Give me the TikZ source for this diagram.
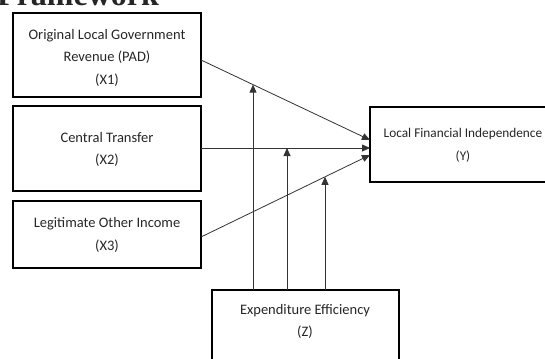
\documentclass[tikz,border=0pt]{standalone}
\usepackage{fontspec}
\setmainfont{Carlito}
\newfontfamily\headfont{Liberation Serif}
\usetikzlibrary{arrows.meta}
\begin{document}
\begin{tikzpicture}[x=1pt,y=-1pt,
  frame/.style={draw=black,line width=1.4pt},
  box/.style={inner sep=0pt,align=center,font=\fontsize{14.5}{22.5}\selectfont,text=black!85},
  conn/.style={draw=black!80,line width=0.8pt,-{Triangle[length=8pt,width=7pt]}}]
\useasboundingbox (0,0) rectangle (545,358);
\clip (0,0) rectangle (545,358);
\node[anchor=base west,font=\headfont\bfseries\fontsize{32}{36}\selectfont,inner sep=0pt,text=black!85] (head) at (-3,6) {Framework};
\draw[frame] (13,13) rectangle (201,97);
\node[box] (x1) at (107,57.5) {Original Local Government\\Revenue (PAD)\\(X1)};
\draw[frame] (13,106) rectangle (201,191);
\node[box] (x2) at (107,149.5) {Central Transfer\\(X2)};
\draw[frame] (13,201) rectangle (201,268);
\node[box] (x3) at (107,235) {Legitimate Other Income\\(X3)};
\draw[frame] (370,107) rectangle (560,182);
\node[box,font=\fontsize{13.3}{22.5}\selectfont] (y) at (463,145.5) {Local Financial Independence\\(Y)};
\draw[frame] (212,290) rectangle (399,380);
\node[box] (z) at (305,321.5) {Expenditure Efficiency\\(Z)};
\coordinate (x1e) at (201,60);
\coordinate (x2e) at (201,148);
\coordinate (x3e) at (201,237);
\coordinate (y1) at (370,140);
\coordinate (y2) at (370,148);
\coordinate (y3) at (370,155);
\draw[conn] (x1e) -- (y1);
\draw[conn] (x2e) -- (y2);
\draw[conn] (x3e) -- (y3);
\coordinate (m1) at (253,84.6);
\coordinate (m2) at (287,148);
\coordinate (m3) at (325,176.8);
\coordinate (z1) at (253,290);
\coordinate (z2) at (287,290);
\coordinate (z3) at (325,290);
\draw[conn] (z1) -- (m1);
\draw[conn] (z2) -- (m2);
\draw[conn] (z3) -- (m3);
\end{tikzpicture}
\end{document}
